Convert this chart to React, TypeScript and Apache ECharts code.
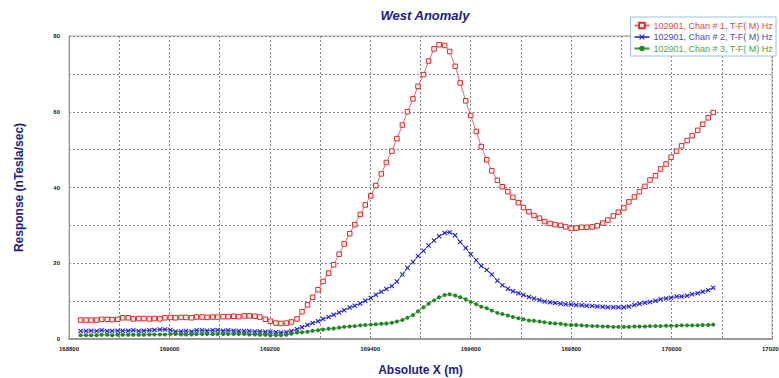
import React, { useEffect, useRef } from "react";
import * as echarts from "echarts";

const xs = [
  168823, 168834, 168844, 168855, 168865, 168876, 168886, 168897, 168907, 168918,
  168928, 168939, 168949, 168960, 168970, 168981, 168991, 169002, 169012, 169023,
  169033, 169044, 169054, 169065, 169075, 169086, 169096, 169107, 169117, 169128,
  169138, 169149, 169159, 169170, 169180, 169191, 169201, 169212, 169222, 169233,
  169243, 169254, 169264, 169275, 169285, 169296, 169306, 169317, 169327, 169338,
  169348, 169359, 169369, 169380, 169390, 169401, 169411, 169422, 169432, 169443,
  169453, 169464, 169474, 169485, 169495, 169506, 169516, 169527, 169537, 169548,
  169558, 169569, 169579, 169590, 169600, 169611, 169621, 169632, 169642, 169653,
  169663, 169674, 169684, 169695, 169705, 169716, 169726, 169737, 169747, 169758,
  169768, 169779, 169789, 169800, 169810, 169821, 169831, 169842, 169852, 169863,
  169873, 169884, 169894, 169905, 169915, 169926, 169936, 169947, 169957, 169968,
  169978, 169989, 169999, 170010, 170020, 170031, 170041, 170052, 170062, 170073,
  170083,
];

const chan1 = [
  5.0, 5.0, 5.0, 5.0, 5.2, 5.2, 5.1, 5.2, 5.6, 5.6,
  5.3, 5.4, 5.4, 5.3, 5.4, 5.3, 5.6, 5.7, 5.6, 5.7,
  5.7, 5.6, 5.8, 5.8, 5.7, 5.8, 5.8, 5.9, 5.9, 6.0,
  5.9, 6.1, 6.1, 6.0, 5.8, 5.2, 4.7, 4.2, 4.1, 4.2,
  4.5, 5.3, 7.2, 9.0, 11.0, 13.0, 15.2, 17.4, 19.6, 22.4,
  25.1, 27.8, 30.2, 32.9, 35.4, 37.8, 40.5, 43.6, 46.6, 49.6,
  52.9, 56.5, 60.0, 63.4, 66.7, 69.8, 73.4, 76.6, 77.7, 77.5,
  75.9, 72.0, 67.6, 62.9, 59.0, 54.8, 50.8, 47.3, 44.4, 41.9,
  40.2, 38.9, 37.4, 36.0, 34.7, 33.6, 32.6, 31.9, 31.0, 30.5,
  30.2, 30.0, 29.6, 29.2, 29.3, 29.5, 29.5, 29.6, 29.9, 30.6,
  31.4, 32.5, 33.5, 34.6, 36.2, 37.5, 38.9, 40.3, 42.0, 43.1,
  44.9, 46.2, 48.0, 49.6, 51.0, 52.4, 53.7, 55.1, 56.7, 58.4,
  59.8,
];

const chan2 = [
  2.1, 2.1, 2.2, 2.1, 2.3, 2.1, 2.1, 2.2, 2.2, 2.2,
  2.3, 2.1, 2.2, 2.3, 2.4, 2.5, 2.5, 2.4, 2.0, 2.0,
  2.1, 2.0, 2.3, 2.3, 2.2, 2.3, 2.4, 2.2, 2.3, 2.2,
  2.1, 2.1, 2.1, 2.0, 2.0, 1.9, 1.9, 1.8, 1.7, 1.8,
  2.1, 2.6, 3.1, 3.7, 4.2, 4.7, 5.3, 5.8, 6.4, 7.0,
  7.6, 8.3, 8.8, 9.4, 10.1, 10.8, 11.7, 12.5, 13.2, 14.0,
  15.2, 17.0, 18.8, 20.3, 21.9, 23.3, 24.7, 26.0, 27.1, 28.0,
  28.2, 27.4, 25.6, 24.0, 22.4, 20.8, 19.3, 18.2, 17.0, 15.4,
  14.2, 13.3, 12.6, 12.1, 11.6, 11.1, 10.7, 10.3, 9.9, 9.7,
  9.5, 9.3, 9.2, 9.1, 9.0, 8.9, 8.8, 8.7, 8.6, 8.5,
  8.4, 8.4, 8.4, 8.4, 8.6, 9.0, 9.3, 9.6, 9.8, 10.1,
  10.5, 10.7, 10.9, 11.2, 11.2, 11.4, 11.8, 12.1, 12.5, 12.9,
  13.5,
];

const chan3 = [
  1.0, 1.0, 1.0, 1.0, 1.1, 1.1, 1.0, 1.1, 1.1, 1.1,
  1.1, 1.1, 1.1, 1.2, 1.2, 1.2, 1.2, 1.3, 1.3, 1.2,
  1.2, 1.2, 1.3, 1.3, 1.3, 1.3, 1.3, 1.3, 1.3, 1.3,
  1.3, 1.3, 1.2, 1.2, 1.1, 1.1, 1.0, 1.0, 1.0, 1.1,
  1.4, 1.7, 1.8, 1.9, 2.2, 2.3, 2.5, 2.7, 2.8, 3.0,
  3.2, 3.3, 3.4, 3.6, 3.7, 3.8, 3.9, 4.0, 4.1, 4.3,
  4.6, 5.0, 5.6, 6.3, 7.3, 8.4, 9.3, 10.2, 11.0, 11.6,
  11.8, 11.5, 11.0, 10.5, 9.8, 9.2, 8.5, 8.1, 7.5, 6.9,
  6.6, 6.2, 5.8, 5.5, 5.2, 4.9, 4.8, 4.6, 4.4, 4.2,
  4.1, 4.0, 3.8, 3.7, 3.7, 3.6, 3.5, 3.4, 3.4, 3.3,
  3.3, 3.2, 3.2, 3.2, 3.2, 3.3, 3.3, 3.3, 3.4, 3.4,
  3.4, 3.5, 3.5, 3.5, 3.6, 3.6, 3.6, 3.6, 3.7, 3.7,
  3.8,
];

const seriesNames = [
  "102901, Chan # 1, T-F( M) Hz",
  "102901, Chan # 2, T-F( M) Hz",
  "102901, Chan # 3, T-F( M) Hz",
];

const xMin = 168800;
const xMax = 170200;
const yMin = 0;
const yMax = 80;

const X_SYMBOL =
  "path://M0,1.5L1.5,0L5,3.5L8.5,0L10,1.5L6.5,5L10,8.5L8.5,10L5,6.5L1.5,10L0,8.5L3.5,5Z";

export default function App() {
  const ref = useRef<HTMLDivElement>(null);

  useEffect(() => {
    document.body.style.margin = "0";
    if (!ref.current) return;
    const chart = echarts.init(ref.current, undefined, { renderer: "svg" });

    const pair = (arr: number[]) => arr.map((v, i) => [xs[i], v]);
    const tickFont = {
      fontSize: 6,
      fontWeight: "bold" as const,
      color: "#222",
      fontFamily: "Liberation Sans, Arial, sans-serif",
    };
    const split = {
      show: true,
      lineStyle: { color: "#888", type: [2, 2] as any, width: 1 },
    };

    chart.setOption({
      animation: false,
      backgroundColor: "#fff",
      title: {
        text: "West Anomaly",
        left: 420,
        top: 4,
        textAlign: "center",
        textStyle: {
          fontSize: 13,
          fontWeight: "bold",
          fontStyle: "italic",
          color: "#1c1c8a",
          fontFamily: "Liberation Sans, Arial, sans-serif",
        },
      },
      legend: {
        orient: "vertical",
        right: 3,
        top: 17,
        padding: [4, 3, 3, 3],
        itemGap: 2.5,
        itemWidth: 15,
        itemHeight: 7,
        backgroundColor: "#fff",
        borderColor: "#9cc0e6",
        borderWidth: 1,
        textStyle: {
          fontSize: 9,
          fontFamily: "Liberation Sans, Arial, sans-serif",
          padding: [0, 0, 0, -1],
        },
        data: [
          { name: seriesNames[0], textStyle: { color: "#de4a4a" } },
          { name: seriesNames[1], textStyle: { color: "#4a4ac4" } },
          { name: seriesNames[2], textStyle: { color: "#4aa64a" } },
        ],
      },
      grid: {
        left: 69,
        right: 7,
        top: 36,
        bottom: 39,
        show: true,
        borderColor: "#a8a8a8",
        borderWidth: 1,
        outerBoundsMode: "none",
        containLabel: false,
      },
      xAxis: {
        type: "value",
        min: xMin,
        max: xMax,
        interval: 100,
        name: "Absolute X (m)",
        nameLocation: "middle",
        nameGap: 25,
        nameTextStyle: {
          fontSize: 12,
          fontWeight: "bold",
          color: "#1c1c8a",
          fontFamily: "Liberation Sans, Arial, sans-serif",
        },
        axisLine: { show: true, lineStyle: { color: "#999", width: 2 } },
        axisTick: { show: false },
        axisLabel: {
          ...tickFont,
          margin: 7,
          formatter: (v: number) => ((v - xMin) % 200 === 0 ? String(v) : ""),
        },
        splitLine: split,
      },
      yAxis: {
        type: "value",
        min: yMin,
        max: yMax,
        interval: 10,
        name: "Response (nTesla/sec)",
        nameLocation: "middle",
        nameGap: 44,
        nameTextStyle: {
          fontSize: 12,
          fontWeight: "bold",
          color: "#1c1c8a",
          fontFamily: "Liberation Sans, Arial, sans-serif",
        },
        axisLine: { show: true, lineStyle: { color: "#999", width: 1 } },
        axisTick: { show: false },
        axisLabel: {
          ...tickFont,
          margin: 9,
          formatter: (v: number) => (v % 20 === 0 ? String(v) : ""),
        },
        splitLine: split,
      },
      series: [
        {
          name: seriesNames[0],
          type: "line",
          data: pair(chan1),
          symbol: "rect",
          symbolSize: 4.5,
          lineStyle: { color: "#e46c6c", width: 1 },
          itemStyle: { color: "#fff4f4", borderColor: "#e02828", borderWidth: 1 },
          z: 3,
        },
        {
          name: seriesNames[1],
          type: "line",
          data: pair(chan2),
          symbol: X_SYMBOL,
          symbolSize: 5,
          lineStyle: { color: "#5050d8", width: 1 },
          itemStyle: { color: "#2020d0" },
          z: 4,
        },
        {
          name: seriesNames[2],
          type: "line",
          data: pair(chan3),
          symbol: "circle",
          symbolSize: 4,
          lineStyle: { color: "#3a9a3a", width: 1 },
          itemStyle: { color: "#228822" },
          z: 5,
        },
      ],
    });

    return () => chart.dispose();
  }, []);

  return <div ref={ref} style={{ width: 779, height: 378 }} />;
}
